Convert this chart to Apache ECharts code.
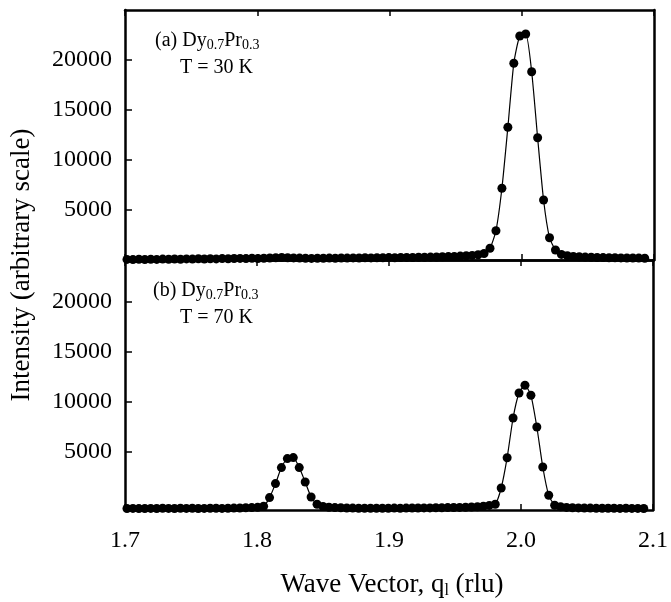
<!DOCTYPE html>
<html>
<head>
<meta charset="utf-8">
<script src="https://cdn.jsdelivr.net/npm/echarts@6/dist/echarts.min.js"></script>
<style>
  html, body { margin: 0; padding: 0; background: #fff; }
  #chart { width: 671px; height: 602px; }
</style>
</head>
<body>
<div id="chart"></div>
<script>
// Wave vector grid (rlu), shared by both scans
const waveVector = [
  1.7015, 1.7060, 1.7105, 1.7150, 1.7195, 1.7240, 1.7285, 1.7330, 1.7375, 1.7420,
  1.7465, 1.7510, 1.7555, 1.7600, 1.7645, 1.7690, 1.7735, 1.7780, 1.7825, 1.7870,
  1.7915, 1.7960, 1.8005, 1.8050, 1.8095, 1.8140, 1.8185, 1.8230, 1.8275, 1.8320,
  1.8365, 1.8410, 1.8455, 1.8500, 1.8545, 1.8590, 1.8635, 1.8680, 1.8725, 1.8770,
  1.8815, 1.8860, 1.8905, 1.8950, 1.8995, 1.9040, 1.9085, 1.9130, 1.9175, 1.9220,
  1.9265, 1.9310, 1.9355, 1.9400, 1.9445, 1.9490, 1.9535, 1.9580, 1.9625, 1.9670,
  1.9715, 1.9760, 1.9805, 1.9850, 1.9895, 1.9940, 1.9985, 2.0030, 2.0075, 2.0120,
  2.0165, 2.0210, 2.0255, 2.0300, 2.0345, 2.0390, 2.0435, 2.0480, 2.0525, 2.0570,
  2.0615, 2.0660, 2.0705, 2.0750, 2.0795, 2.0840, 2.0885, 2.0930
];

// (a) T = 30 K
const intensity30K = [
  60, 40, 70, 50, 80, 60, 90, 70, 100, 80,
  110, 90, 120, 100, 130, 110, 140, 120, 150, 160,
  140, 170, 150, 180, 200, 230, 250, 230, 210, 190,
  170, 160, 180, 170, 190, 180, 200, 190, 210, 200,
  220, 210, 230, 220, 240, 230, 250, 260, 250, 270,
  280, 290, 300, 320, 340, 360, 390, 420, 460, 520,
  650, 1170, 2930, 7170, 13270, 19670, 22400, 22600, 18830, 12230,
  6000, 2230, 1000, 560, 420, 360, 320, 290, 270, 250,
  240, 230, 220, 210, 200, 200, 190, 180
];

// (b) T = 70 K
const intensity70K = [
  -650, -640, -660, -650, -640, -650, -630, -640, -650, -630,
  -640, -630, -650, -640, -630, -620, -640, -630, -610, -600,
  -580, -560, -520, -430, 440, 1840, 3440, 4340, 4440, 3440,
  2000, 500, -230, -450, -520, -560, -580, -600, -610, -620,
  -620, -630, -620, -630, -620, -610, -620, -610, -600, -600,
  -590, -590, -580, -570, -560, -550, -540, -520, -500, -470,
  -420, -340, -230, 1400, 4430, 8400, 10900, 11670, 10670, 7500,
  3500, 670, -330, -480, -540, -570, -590, -600, -610, -620,
  -620, -630, -630, -640, -630, -640, -640, -650
];

const yTicks = [5000, 10000, 15000, 20000];

const FONT = '"Liberation Serif", "DejaVu Serif", serif';
const INK = '#000';

const pairs = (xs, ys) => xs.map((x, i) => [x, ys[i]]);

const plotLeft = 125, plotWidth = 529;
const panelHeight = 250, topPanelTop = 10;

function xAxisFor(gridIndex, showLabels) {
  return {
    type: 'value', gridIndex, min: 1.7, max: 2.1, interval: 0.1,
    axisLine: { show: true, onZero: false, lineStyle: { color: INK, width: 2.5 } },
    axisTick: { show: true, inside: true, length: 6, lineStyle: { color: INK, width: 1.5 } },
    axisLabel: {
      show: showLabels, color: INK, fontFamily: FONT, fontSize: 24, margin: 19,
      formatter: v => v.toFixed(1)
    },
    splitLine: { show: false }
  };
}
function topAxisFor(gridIndex) {
  return {
    type: 'value', gridIndex, position: 'top', min: 1.7, max: 2.1, interval: 0.1,
    axisLine: { show: true, onZero: false, lineStyle: { color: INK, width: 2.5 } },
    axisTick: { show: true, inside: true, length: 6, lineStyle: { color: INK, width: 1.5 } },
    axisLabel: { show: false },
    splitLine: { show: false }
  };
}
function yAxisFor(gridIndex, min, max) {
  return {
    type: 'value', gridIndex, min, max,
    axisLine: { show: true, onZero: false, lineStyle: { color: INK, width: 2.5 } },
    axisTick: { show: true, inside: true, length: 7, customValues: yTicks, lineStyle: { color: INK, width: 1.5 } },
    axisLabel: {
      show: true, customValues: yTicks, color: INK, fontFamily: FONT, fontSize: 24, margin: 13,
      formatter: v => String(v)
    },
    splitLine: { show: false }
  };
}
function rightAxisFor(gridIndex, min, max) {
  return {
    type: 'value', gridIndex, position: 'right', min, max,
    axisLine: { show: true, onZero: false, lineStyle: { color: INK, width: 2.5 } },
    axisTick: { show: false }, axisLabel: { show: false }, splitLine: { show: false }
  };
}
function scan(xi, yi, values) {
  return {
    type: 'line', xAxisIndex: xi, yAxisIndex: yi,
    data: pairs(waveVector, values),
    smooth: 0.2,
    symbol: 'circle', symbolSize: 9,
    itemStyle: { color: INK },
    lineStyle: { color: INK, width: 1.2 },
    animation: false
  };
}

const chart = echarts.init(document.getElementById('chart'), null, { renderer: 'canvas' });

const subRich = {
  m: { fontFamily: FONT, fontSize: 20, fill: INK },
  s: { fontFamily: FONT, fontSize: 14, fill: INK, padding: [8, 0, 0, 0] }
};

chart.setOption({
  backgroundColor: '#fff',
  animation: false,
  grid: [
    { left: plotLeft, top: topPanelTop, width: plotWidth, height: panelHeight },
    { left: plotLeft, top: topPanelTop + panelHeight, width: plotWidth, height: panelHeight }
  ],
  xAxis: [xAxisFor(0, false), topAxisFor(0), xAxisFor(1, true), topAxisFor(1)],
  yAxis: [
    yAxisFor(0, 0, 25000), rightAxisFor(0, 0, 25000),
    yAxisFor(1, -800, 24200), rightAxisFor(1, -800, 24200)
  ],
  series: [scan(0, 0, intensity30K), scan(2, 2, intensity70K)],
  graphic: [
    {
      type: 'text', left: 155, top: 31,
      style: { text: '{m|(a) Dy}{s|0.7}{m|Pr}{s|0.3}', rich: subRich, fill: INK }
    },
    { type: 'text', left: 180, top: 58, style: { text: 'T = 30 K', font: '20px ' + FONT, fill: INK } },
    {
      type: 'text', left: 153, top: 281,
      style: { text: '{m|(b) Dy}{s|0.7}{m|Pr}{s|0.3}', rich: subRich, fill: INK }
    },
    { type: 'text', left: 180, top: 308, style: { text: 'T = 70 K', font: '20px ' + FONT, fill: INK } },
    {
      type: 'text', x: 22, y: 265, rotation: Math.PI / 2,
      style: {
        text: 'Intensity (arbitrary scale)', font: '27px ' + FONT, fill: INK,
        align: 'center', verticalAlign: 'middle'
      }
    },
    {
      type: 'text', x: 392, y: 585,
      style: {
        text: '{m|Wave Vector, q}{s|l}{m| (rlu)}', align: 'center', verticalAlign: 'middle',
        rich: {
          m: { fontFamily: FONT, fontSize: 27, fill: INK },
          s: { fontFamily: FONT, fontSize: 16, fill: INK, padding: [12, 0, 0, 0] }
        }
      }
    }
  ]
});
</script>
</body>
</html>
